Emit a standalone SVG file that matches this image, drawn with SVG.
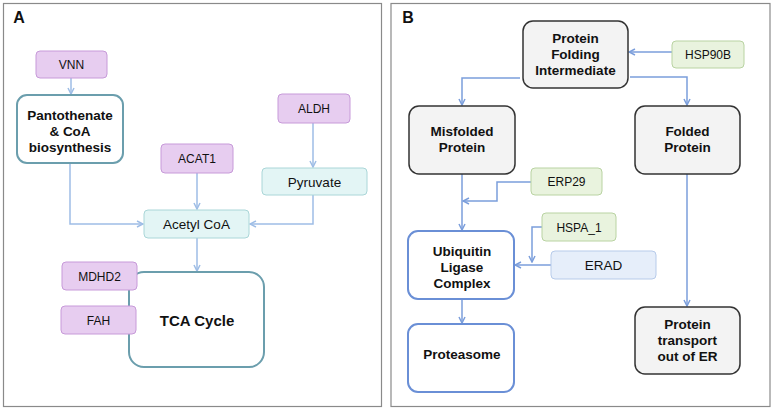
<svg xmlns="http://www.w3.org/2000/svg" width="773" height="411" viewBox="0 0 773 411">
<style>
text{font-family:"Liberation Sans",Arial,sans-serif;fill:#111;text-anchor:middle}
.b{font-weight:bold;font-size:13.5px}
.s{font-size:12px}
.m{font-size:13.5px}
.panel{fill:#fff;stroke:#8a8a8a;stroke-width:1.2}
.pur{fill:#e7cdf0;stroke:#c79ad9;stroke-width:1}
.cyan{fill:#e3f5f5;stroke:#aad6d8;stroke-width:1}
.teal{fill:#fff;stroke:#6b9ead;stroke-width:2}
.grey{fill:#f3f3f3;stroke:#333;stroke-width:1.5}
.grn{fill:#e9f3de;stroke:#b9d3a2;stroke-width:1}
.blu{fill:#fff;stroke:#6a8fd6;stroke-width:2}
.lblu{fill:#e6eefa;stroke:#b7cbea;stroke-width:1}
.ca{fill:none;stroke:#9ebde6;stroke-width:1.5}
.cb{fill:none;stroke:#7b9edb;stroke-width:1.5}
</style>
<defs>
<marker id="ma" viewBox="0 0 8 8" refX="7" refY="4" markerWidth="8" markerHeight="8" markerUnits="userSpaceOnUse" orient="auto">
<path d="M1,1 L7,4 L1,7" fill="none" stroke="#9ebde6" stroke-width="1.5"/>
</marker>
<marker id="mb" viewBox="0 0 8 8" refX="7" refY="4" markerWidth="8" markerHeight="8" markerUnits="userSpaceOnUse" orient="auto">
<path d="M1,1 L7,4 L1,7" fill="none" stroke="#7b9edb" stroke-width="1.5"/>
</marker>
</defs>
<rect class="panel" x="3.5" y="3.5" width="378" height="403"/>
<rect class="panel" x="391" y="3.5" width="379" height="403"/>
<text x="19" y="23" style="font-weight:bold;font-size:16px">A</text>
<text x="408" y="23" style="font-weight:bold;font-size:16px">B</text>

<g id="connectors">
<path class="ca" d="M71,78 V94" marker-end="url(#ma)"/>
<path class="ca" d="M313,123 V167" marker-end="url(#ma)"/>
<path class="ca" d="M197,173 V209" marker-end="url(#ma)"/>
<path class="ca" d="M70,163 V224 H143" marker-end="url(#ma)"/>
<path class="ca" d="M313,195 V224 H250" marker-end="url(#ma)"/>
<path class="ca" d="M197,238 V271" marker-end="url(#ma)"/>
<path class="cb" d="M672,52 H629" marker-end="url(#mb)"/>
<path class="cb" d="M520,78 H462 V105" marker-end="url(#mb)"/>
<path class="cb" d="M630,77 H687 V105" marker-end="url(#mb)"/>
<path class="cb" d="M462,174 V230" marker-end="url(#mb)"/>
<path class="cb" d="M531,182 H497 V201 H463" marker-end="url(#mb)"/>
<path class="cb" d="M542,227 H532 V262" marker-end="url(#mb)"/>
<path class="cb" d="M551,265 H515" marker-end="url(#mb)"/>
<path class="cb" d="M462,299 V323" marker-end="url(#mb)"/>
<path class="cb" d="M687,174 V306" marker-end="url(#mb)"/>
</g>

<g id="vnn"><rect class="pur" x="36" y="51" width="71" height="27" rx="4"/><text class="s" x="71.5" y="69">VNN</text></g>
<g id="pantothenate"><rect class="teal" x="17" y="95" width="106" height="68" rx="10"/>
<text class="b" x="70" y="120">Pantothenate</text><text class="b" x="70" y="136">&amp; CoA</text><text class="b" x="70" y="152">biosynthesis</text></g>
<g id="aldh"><rect class="pur" x="278" y="94" width="72" height="29" rx="4"/><text class="s" x="314" y="113">ALDH</text></g>
<g id="acat1"><rect class="pur" x="161" y="144" width="72" height="29" rx="4"/><text class="s" x="197" y="163">ACAT1</text></g>
<g id="pyruvate"><rect class="cyan" x="262" y="168" width="105" height="27" rx="4"/><text class="m" x="314.5" y="186.5">Pyruvate</text></g>
<g id="acetylcoa"><rect class="cyan" x="144" y="210" width="105" height="28" rx="4"/><text class="m" x="196.5" y="229">Acetyl CoA</text></g>
<g id="tca"><rect class="teal" x="129" y="272" width="135" height="95" rx="15"/><text x="197" y="326" style="font-weight:bold;font-size:15px">TCA Cycle</text></g>
<g id="mdhd2"><rect class="pur" x="62" y="262" width="75" height="28" rx="4"/><text class="s" x="99.5" y="280.5">MDHD2</text></g>
<g id="fah"><rect class="pur" x="61" y="306" width="75" height="28" rx="4"/><text class="s" x="98.5" y="324.5">FAH</text></g>

<g id="pfi"><rect class="grey" x="523" y="21" width="105" height="67" rx="10"/>
<text class="b" x="575.5" y="43">Protein</text><text class="b" x="575.5" y="59">Folding</text><text class="b" x="575.5" y="75">Intermediate</text></g>
<g id="hsp90b"><rect class="grn" x="672" y="41" width="72" height="27" rx="4"/><text class="s" x="708" y="59">HSP90B</text></g>
<g id="misfolded"><rect class="grey" x="409" y="106" width="106" height="68" rx="10"/>
<text class="b" x="462" y="136">Misfolded</text><text class="b" x="462" y="152">Protein</text></g>
<g id="folded"><rect class="grey" x="635" y="106" width="105" height="68" rx="10"/>
<text class="b" x="687.5" y="136">Folded</text><text class="b" x="687.5" y="152">Protein</text></g>
<g id="erp29"><rect class="grn" x="531" y="168" width="71" height="27" rx="4"/><text class="s" x="566.5" y="186">ERP29</text></g>
<g id="hspa1"><rect class="grn" x="542" y="213" width="74" height="28" rx="4"/><text class="s" x="579" y="231.5">HSPA_1</text></g>
<g id="erad"><rect class="lblu" x="551" y="251" width="105" height="28" rx="4"/><text class="m" x="603.5" y="270">ERAD</text></g>
<g id="ubiquitin"><rect class="blu" x="408" y="231" width="106" height="68" rx="10"/>
<text class="b" x="462" y="256">Ubiquitin</text><text class="b" x="462" y="272">Ligase</text><text class="b" x="462" y="288">Complex</text></g>
<g id="proteasome"><rect class="blu" x="408" y="324" width="106" height="68" rx="10"/><text class="b" x="462" y="359">Proteasome</text></g>
<g id="transport"><rect class="grey" x="635" y="307" width="105" height="67" rx="10"/>
<text class="b" x="687.5" y="329">Protein</text><text class="b" x="687.5" y="345">transport</text><text class="b" x="687.5" y="361">out of ER</text></g>
</svg>
